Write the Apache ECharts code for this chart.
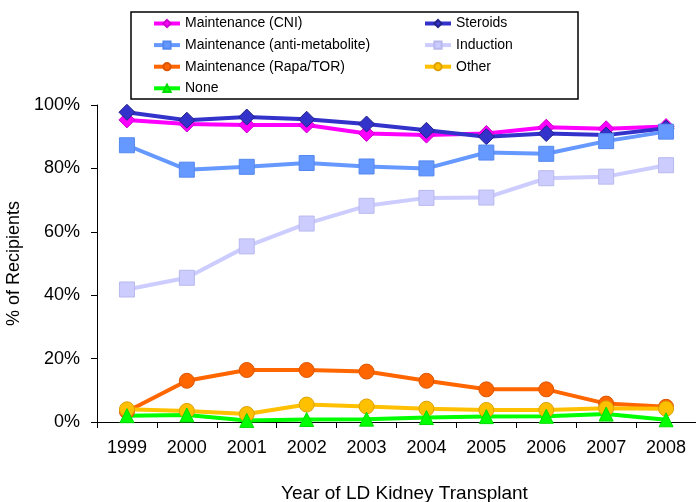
<!DOCTYPE html>
<html><head><meta charset="utf-8">
<script src="https://cdn.jsdelivr.net/npm/echarts@6/dist/echarts.min.js"></script>
<style>html,body{margin:0;padding:0;background:#fff}#c{width:696px;height:502px}</style>
</head><body><div id="c"></div>
<script>
var years = ['1999','2000','2001','2002','2003','2004','2005','2006','2007','2008'];
var cni = [95.3, 94.0, 93.7, 93.7, 91.0, 90.5, 91.0, 93.0, 92.5, 93.2];
var steroids = [97.7, 95.2, 96.2, 95.5, 94.0, 92.0, 90.0, 91.0, 90.5, 92.7];
var antimet = [87.3, 79.6, 80.5, 81.7, 80.6, 80.0, 85.0, 84.6, 88.6, 91.6];
var induction = [41.8, 45.5, 55.4, 62.6, 68.2, 70.7, 70.8, 76.9, 77.4, 81.0];
var rapa = [3.3, 13.0, 16.4, 16.4, 15.9, 13.0, 10.3, 10.3, 5.8, 4.8];
var other = [4.0, 3.5, 2.5, 5.5, 4.9, 4.2, 3.8, 3.8, 4.3, 4.2];
var none = [2.0, 2.2, 0.5, 0.8, 0.9, 1.4, 1.7, 1.8, 2.5, 0.7];
var yTicks = [0, 20, 40, 60, 80, 100];

var FONT = 'Liberation Sans, Arial, sans-serif';
function mk(name, data, color, border, symbol, size) {
  return {
    name: name, type: 'line', data: data,
    symbol: symbol, symbolSize: size,
    lineStyle: { color: color, width: 4 },
    itemStyle: { color: color, borderColor: border, borderWidth: 1 },
    emphasis: { disabled: true },
    animation: false
  };
}
var legendBase = {
  orient: 'vertical', top: 16.5, padding: 0, itemWidth: 26, itemHeight: 9, itemGap: 7.6,
  lineStyle: { width: 4 },
  textStyle: { fontFamily: FONT, fontSize: 14, color: '#000' }
};
var chart = echarts.init(document.getElementById('c'));
chart.setOption({
  backgroundColor: '#fff',
  animation: false,
  grid: { left: 97, top: 105, right: 0, bottom: 80, containLabel: false, outerBoundsMode: 'none' },
  graphic: [{
    type: 'rect', shape: { x: 131, y: 12, width: 447, height: 87 },
    style: { fill: 'none', stroke: '#000', lineWidth: 1.5 }, z: 0
  }],
  legend: [
    Object.assign({}, legendBase, { left: 152,
      data: ['Maintenance (CNI)', 'Maintenance (anti-metabolite)', 'Maintenance (Rapa/TOR)', 'None'] }),
    Object.assign({}, legendBase, { left: 423,
      data: ['Steroids', 'Induction', 'Other'] })
  ],
  xAxis: {
    type: 'category', data: years, boundaryGap: true,
    name: 'Year of LD Kidney Transplant', nameLocation: 'middle', nameGap: 62,
    nameTextStyle: { fontFamily: FONT, fontSize: 19, color: '#000', padding: [0, 0, 0, 16] },
    axisLine: { show: true, lineStyle: { color: '#000', width: 1 } },
    axisTick: { show: true, length: 6, alignWithLabel: false, interval: 0, lineStyle: { color: '#000' } },
    axisLabel: { fontFamily: FONT, fontSize: 18, color: '#000', margin: 17, interval: 0 },
    splitLine: { show: false }
  },
  yAxis: {
    type: 'value', min: yTicks[0], max: yTicks[yTicks.length - 1], interval: 20,
    name: '% of Recipients', nameLocation: 'middle', nameGap: 63, nameRotate: 90,
    nameTextStyle: { fontFamily: FONT, fontSize: 18, color: '#000' },
    axisLine: { show: true, lineStyle: { color: '#000', width: 1 } },
    axisTick: { show: true, length: 6, lineStyle: { color: '#000' } },
    axisLabel: { fontFamily: FONT, fontSize: 18, color: '#000', margin: 17, formatter: '{value}%' },
    splitLine: { show: false }
  },
  series: [
    mk('Maintenance (CNI)', cni, '#FF00FF', '#CC00CC', 'diamond', 16),
    mk('Steroids', steroids, '#3333CC', '#222288', 'diamond', 16),
    mk('Maintenance (anti-metabolite)', antimet, '#6699FF', '#5588EE', 'rect', 15),
    mk('Induction', induction, '#CCCCFF', '#B8B8EE', 'rect', 15),
    mk('Maintenance (Rapa/TOR)', rapa, '#FF6600', '#DD5500', 'circle', 15),
    mk('Other', other, '#FFC000', '#DDA000', 'circle', 15),
    mk('None', none, '#00FF00', '#00DD00', 'triangle', 14)
  ]
});
</script></body></html>
